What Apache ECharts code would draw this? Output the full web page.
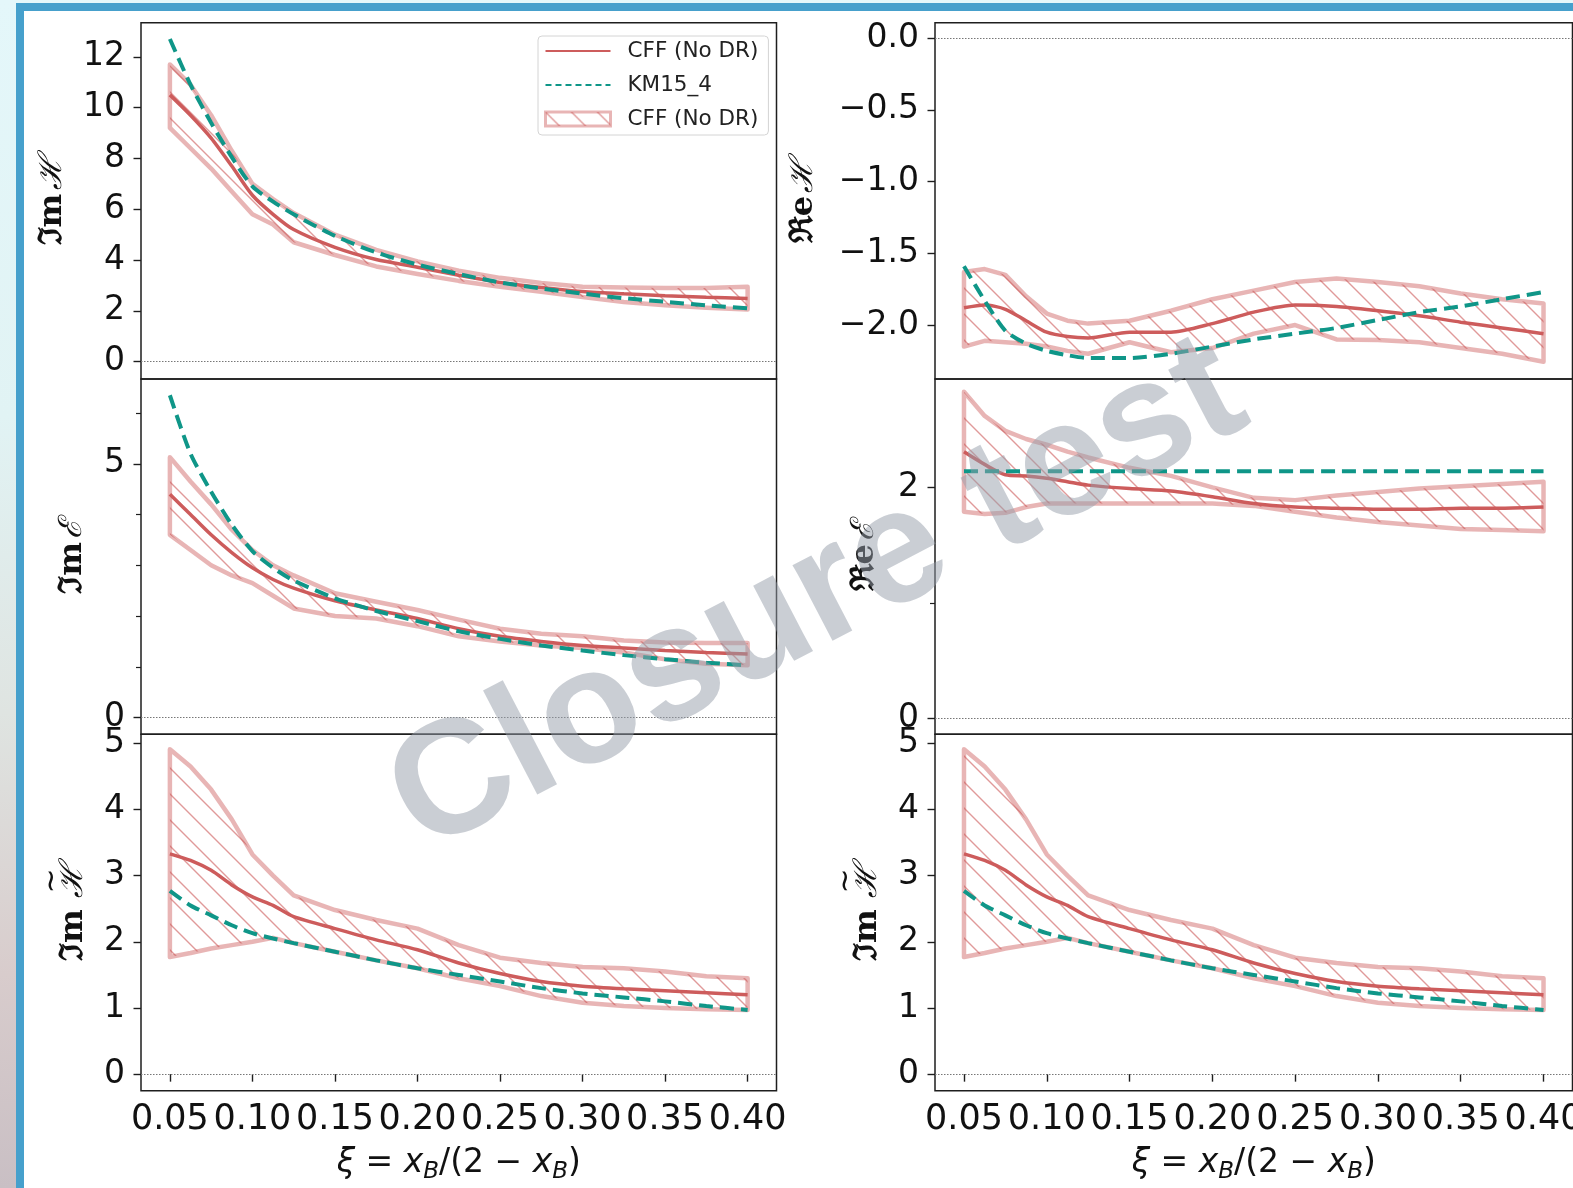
<!DOCTYPE html>
<html>
<head>
<meta charset="utf-8">
<script src="https://cdn.jsdelivr.net/npm/echarts@6/dist/echarts.min.js"></script>
<style>
  html, body { margin: 0; padding: 0; width: 1573px; height: 1188px; overflow: hidden; }
  body {
    position: relative;
    background: linear-gradient(180deg, #e4f7fa 0%, #e1f3f4 35%, #dfe4e1 60%, #d8cccc 82%, #c9bfc4 100%);
  }
  #frame {
    position: absolute; left: 16px; top: 3px; right: 0; bottom: 0;
    background: #ffffff;
    border-left: 8px solid #46a0cc;
    border-top: 8px solid #46a0cc;
  }
  #chart { position: absolute; left: 0; top: 0; width: 1573px; height: 1188px; }
</style>
</head>
<body>
<div id="frame"></div>
<div id="chart"></div>
<script>
// xi = x_B / (2 - x_B) sampling points shared by every panel
const xi = [0.05, 0.0625, 0.075, 0.0875, 0.10, 0.1125, 0.125, 0.15, 0.175, 0.20, 0.225, 0.25, 0.275, 0.30, 0.325, 0.35, 0.375, 0.40];

// Im H
const imH_cff = [10.5, 9.7, 8.8, 7.7, 6.55, 5.8, 5.2, 4.5, 4.02, 3.72, 3.4, 3.12, 2.92, 2.76, 2.67, 2.6, 2.54, 2.49];
const imH_km  = [12.7, 10.9, 9.4, 8.05, 6.9, 6.3, 5.8, 4.95, 4.3, 3.82, 3.45, 3.12, 2.88, 2.68, 2.5, 2.36, 2.22, 2.1];
const imH_hi  = [11.7, 10.9, 9.7, 8.3, 7.0, 6.4, 5.85, 5.0, 4.4, 3.95, 3.58, 3.3, 3.1, 2.95, 2.92, 2.9, 2.9, 2.95];
const imH_lo  = [9.2, 8.4, 7.6, 6.7, 5.8, 5.4, 4.7, 4.2, 3.75, 3.45, 3.18, 2.95, 2.75, 2.55, 2.35, 2.22, 2.12, 2.05];

// Re H
const reH_cff = [-1.88, -1.86, -1.89, -1.97, -2.05, -2.08, -2.09, -2.05, -2.05, -1.99, -1.91, -1.86, -1.87, -1.9, -1.935, -1.98, -2.02, -2.06];
const reH_km  = [-1.59, -1.83, -2.04, -2.13, -2.18, -2.21, -2.23, -2.23, -2.2, -2.15, -2.1, -2.06, -2.02, -1.965, -1.91, -1.87, -1.82, -1.77];
const reH_hi  = [-1.63, -1.61, -1.65, -1.8, -1.92, -1.97, -1.99, -1.97, -1.9, -1.82, -1.76, -1.7, -1.675, -1.7, -1.73, -1.78, -1.82, -1.85];
const reH_lo  = [-2.15, -2.11, -2.12, -2.13, -2.15, -2.18, -2.2, -2.12, -2.19, -2.16, -2.06, -2.0, -2.1, -2.105, -2.12, -2.16, -2.2, -2.256];

// Im E
const imE_cff = [4.4, 4.0, 3.6, 3.25, 2.95, 2.72, 2.55, 2.3, 2.12, 1.95, 1.75, 1.6, 1.5, 1.42, 1.37, 1.32, 1.28, 1.25];
const imE_km  = [6.35, 5.2, 4.45, 3.8, 3.28, 2.95, 2.7, 2.35, 2.1, 1.9, 1.7, 1.55, 1.42, 1.32, 1.23, 1.15, 1.08, 1.03];
const imE_hi  = [5.13, 4.65, 4.2, 3.7, 3.3, 3.0, 2.8, 2.45, 2.28, 2.12, 1.93, 1.75, 1.65, 1.6, 1.52, 1.48, 1.47, 1.47];
const imE_lo  = [3.6, 3.3, 3.0, 2.8, 2.65, 2.4, 2.15, 2.0, 1.95, 1.8, 1.6, 1.5, 1.42, 1.37, 1.28, 1.15, 1.06, 1.03];

// Re E
const reE_cff = [2.31, 2.2, 2.11, 2.1, 2.08, 2.05, 2.02, 1.99, 1.97, 1.92, 1.86, 1.83, 1.82, 1.81, 1.81, 1.82, 1.82, 1.83];
const reE_km  = [2.14, 2.14, 2.14, 2.14, 2.14, 2.14, 2.14, 2.14, 2.14, 2.14, 2.14, 2.14, 2.14, 2.14, 2.14, 2.14, 2.14, 2.14];
const reE_hi  = [2.83, 2.62, 2.49, 2.42, 2.37, 2.31, 2.26, 2.17, 2.1, 2.0, 1.91, 1.89, 1.93, 1.96, 1.99, 2.01, 2.03, 2.05];
const reE_lo  = [1.79, 1.77, 1.78, 1.83, 1.86, 1.86, 1.86, 1.86, 1.86, 1.86, 1.84, 1.79, 1.74, 1.7, 1.67, 1.64, 1.63, 1.62];

// Im H-tilde
const imHt_cff = [3.33, 3.23, 3.08, 2.86, 2.68, 2.55, 2.38, 2.2, 2.03, 1.88, 1.68, 1.52, 1.4, 1.33, 1.29, 1.26, 1.23, 1.2];
const imHt_km  = [2.77, 2.55, 2.4, 2.25, 2.13, 2.05, 1.98, 1.85, 1.72, 1.6, 1.5, 1.4, 1.3, 1.22, 1.16, 1.1, 1.03, 0.97];
const imHt_hi  = [4.91, 4.65, 4.3, 3.85, 3.32, 3.0, 2.7, 2.48, 2.33, 2.2, 1.95, 1.76, 1.68, 1.62, 1.6, 1.55, 1.48, 1.45];
const imHt_lo  = [1.77, 1.83, 1.9, 1.95, 2.0, 2.06, 1.98, 1.85, 1.72, 1.6, 1.45, 1.33, 1.18, 1.08, 1.03, 1.0, 0.98, 0.97];

// tick labels
const xTicks    = [0.05, 0.10, 0.15, 0.20, 0.25, 0.30, 0.35, 0.40];
const imH_ticks = [0, 2, 4, 6, 8, 10, 12];
const reH_ticks = [-2.0, -1.5, -1.0, -0.5, 0.0];
const imE_ticks = [0, 5];
const imE_minor = [1, 2, 3, 4, 6];
const reE_ticks = [0, 2];
const reE_minor = [1];
const imHt_ticks = [0, 1, 2, 3, 4, 5];

const RED = '#cd5c5c';
const TEAL = '#0f9688';
const BAND_EDGE = 'rgba(205,92,92,0.45)';
const FONT = '"DejaVu Sans", sans-serif';
const SERIF = '"DejaVu Serif", serif';
const TICK_FS = 33;
const XTICK_FS = 35;
const NAME_FS = 32;

// diagonal "\\" hatch used for the uncertainty bands
function makeHatch() {
  const s = 26;
  const c = document.createElement('canvas');
  c.width = s; c.height = s;
  const g = c.getContext('2d');
  g.strokeStyle = 'rgba(205,92,92,0.62)';
  g.lineWidth = 1.4;
  g.beginPath();
  g.moveTo(-2, -2); g.lineTo(s + 2, s + 2);
  g.moveTo(-2, s - 2); g.lineTo(2, s + 2);
  g.moveTo(s - 2, -2); g.lineTo(s + 2, 2);
  g.stroke();
  return c;
}
const hatch = { image: makeHatch(), repeat: 'repeat' };

// widths used to centre the tilde over the calligraphic H
const meas = document.createElement('canvas').getContext('2d');
meas.font = 'bold ' + NAME_FS + 'px ' + SERIF;
const wIm = meas.measureText('ℑm ').width;
meas.font = 'italic ' + NAME_FS + 'px ' + SERIF;
const wH = meas.measureText('ℋ').width;

// panel layout: 0 ImH, 1 ReH, 2 ImE, 3 ReE, 4 ImHt (left), 5 ImHt (right)
const colLeft = [141, 935];
const colWidth = [635.5, 637.5];
const rowTop = [22.7, 379, 734.3];
const rowHeight = [356.3, 355.3, 356.4];

const grids = [];
for (let r = 0; r < 3; r++) {
  for (let c = 0; c < 2; c++) {
    grids.push({
      left: colLeft[c], top: rowTop[r], width: colWidth[c], height: rowHeight[r],
      show: true, borderColor: '#1e1e1e', borderWidth: 1.5, backgroundColor: 'transparent',
      containLabel: false, outerBoundsMode: 'none'
    });
  }
}

const xName = '{i|ξ} = {i|x}{b|B}/(2 − {i|x}{b|B})';
const xAxes = grids.map((g, k) => {
  const bottom = k >= 4;
  return {
    type: 'value', gridIndex: k, min: 0.0325, max: 0.4175,
    axisLine: { show: false },
    splitLine: { show: false },
    axisTick: { show: bottom, customValues: xTicks, length: 7.5, lineStyle: { color: '#1e1e1e', width: 1.4 } },
    axisLabel: {
      show: bottom, customValues: xTicks, margin: 12,
      formatter: v => v.toFixed(2),
      fontSize: XTICK_FS, fontFamily: FONT, color: '#111'
    },
    name: bottom ? xName : '',
    nameLocation: 'middle', nameGap: 53,
    nameTextStyle: {
      fontSize: 33, fontFamily: FONT, color: '#111', lineHeight: 40,
      rich: {
        i: { fontStyle: 'italic', fontSize: 33, fontFamily: FONT, color: '#111', lineHeight: 40 },
        b: { fontStyle: 'italic', fontSize: 23, fontFamily: FONT, color: '#111', lineHeight: 22, verticalAlign: 'bottom' }
      }
    }
  };
});

function minus(v, digits) {
  const s = Math.abs(v).toFixed(digits);
  return v < -1e-9 ? '−' + s : s;
}

const labelRich = {
  f: { fontFamily: SERIF, fontSize: NAME_FS, fontWeight: 'bold', color: '#111' },
  c: { fontFamily: SERIF, fontSize: NAME_FS, fontStyle: 'italic', color: '#111' },
  fw: { fontFamily: SERIF, fontSize: NAME_FS, fontWeight: 'bold', color: '#111', width: wIm, lineHeight: 34 },
  cw: { fontFamily: SERIF, fontSize: NAME_FS, fontStyle: 'italic', color: '#111', width: wH, lineHeight: 34 },
  sp: { fontSize: 10, width: wIm, lineHeight: 10 },
  t: { fontFamily: FONT, fontSize: 30, color: '#111', width: wH, align: 'center', lineHeight: 10 }
};
const tildeName = '{sp| }{t|~}\n{fw|ℑm }{cw|ℋ}';

function yAxis(k, min, max, ticks, digits, name, gap) {
  return {
    type: 'value', gridIndex: k, min: min, max: max, position: 'left',
    axisLine: { show: false },
    splitLine: { show: false },
    axisTick: { show: true, customValues: ticks, length: 7.5, lineStyle: { color: '#1e1e1e', width: 1.4 } },
    axisLabel: {
      customValues: ticks, margin: 16,
      formatter: v => minus(v, digits),
      fontSize: TICK_FS, fontFamily: FONT, color: '#111'
    },
    name: name, nameLocation: 'middle', nameRotate: 90, nameGap: gap,
    nameTextStyle: { rich: labelRich }
  };
}
function minorAxis(k, min, max, ticks) {
  return {
    type: 'value', gridIndex: k, min: min, max: max, position: 'left', offset: 0,
    axisLine: { show: false }, splitLine: { show: false },
    axisLabel: { show: false },
    axisTick: { show: true, customValues: ticks, length: 5, lineStyle: { color: '#1e1e1e', width: 1.2 } }
  };
}

const yAxes = [
  yAxis(0, -0.68, 13.34, imH_ticks, 0, '{f|ℑm} {c|ℋ}', 72),
  yAxis(1, -2.376, 0.107, reH_ticks, 1, '{f|ℜe} {c|ℋ}', 115),
  yAxis(2, -0.33, 6.67, imE_ticks, 0, '{f|ℑm} {c|ℰ}', 52),
  yAxis(3, -0.14, 2.94, reE_ticks, 0, '{f|ℜe} {c|ℰ}', 54),
  yAxis(4, -0.25, 5.136, imHt_ticks, 0, tildeName, 50),
  yAxis(5, -0.25, 5.136, imHt_ticks, 0, tildeName, 50),
  minorAxis(2, -0.33, 6.67, imE_minor),
  minorAxis(3, -0.14, 2.94, reE_minor)
];

const pairs = arr => xi.map((x, i) => [x, arr[i]]);

function bandSeries(k, lo, hi, name) {
  return {
    type: 'custom', name: name, xAxisIndex: k, yAxisIndex: k, z: 2, silent: true,
    itemStyle: { color: BAND_EDGE },
    data: [[xi[0], lo[0]]],
    renderItem: (params, api) => {
      const top = xi.map((x, i) => api.coord([x, hi[i]]));
      const bot = xi.map((x, i) => api.coord([x, lo[i]])).reverse();
      return {
        type: 'polygon',
        shape: { points: top.concat(bot) },
        style: { fill: hatch, stroke: BAND_EDGE, lineWidth: 4.5, lineJoin: 'round' }
      };
    }
  };
}
function cffSeries(k, arr, name) {
  return {
    type: 'line', name: name, xAxisIndex: k, yAxisIndex: k, z: 3,
    data: pairs(arr), showSymbol: false, symbol: 'none', smooth: 0.25, silent: true,
    lineStyle: { color: RED, width: 3.5 }, itemStyle: { color: RED }
  };
}
function kmSeries(k, arr, name) {
  return {
    type: 'line', name: name, xAxisIndex: k, yAxisIndex: k, z: 4,
    data: pairs(arr), showSymbol: false, symbol: 'none', smooth: 0.25, silent: true,
    lineStyle: { color: TEAL, width: 4, type: [14, 7] }, itemStyle: { color: TEAL },
    markLine: {
      silent: true, symbol: 'none', animation: false,
      label: { show: false },
      lineStyle: { color: '#777', width: 1, type: [1.5, 1.5] },
      data: [{ yAxis: 0 }]
    }
  };
}

const panelData = [
  [imH_cff, imH_km, imH_lo, imH_hi],
  [reH_cff, reH_km, reH_lo, reH_hi],
  [imE_cff, imE_km, imE_lo, imE_hi],
  [reE_cff, reE_km, reE_lo, reE_hi],
  [imHt_cff, imHt_km, imHt_lo, imHt_hi],
  [imHt_cff, imHt_km, imHt_lo, imHt_hi]
];

const series = [];
panelData.forEach((d, k) => {
  const first = k === 0;
  series.push(bandSeries(k, d[2], d[3], first ? 'CFF (No DR) band' : 'band ' + k));
  series.push(cffSeries(k, d[0], first ? 'CFF (No DR)' : 'cff ' + k));
  series.push(kmSeries(k, d[1], first ? 'KM15_4' : 'km ' + k));
});

const hiddenMarker = { color: 'rgba(0,0,0,0)', borderWidth: 0, opacity: 0 };

const option = {
  animation: false,
  backgroundColor: 'transparent',
  grid: grids,
  xAxis: xAxes,
  yAxis: yAxes,
  series: series,
  legend: {
    show: true, selectedMode: false, orient: 'vertical',
    left: 538, top: 36,
    padding: [4, 10, 5, 6], itemGap: 12,
    itemWidth: 65, itemHeight: 14,
    backgroundColor: 'rgba(255,255,255,0.85)', borderColor: '#d4d4d4', borderWidth: 1, borderRadius: 4,
    textStyle: { fontSize: 21.5, fontFamily: FONT, color: '#222', rich: { g: { width: 12 } } },
    formatter: name => '{g| }' + name.replace(' band', ''),
    data: [
      { name: 'CFF (No DR)', icon: 'inherit', itemStyle: hiddenMarker, lineStyle: { color: RED, width: 2 } },
      { name: 'KM15_4', icon: 'inherit', itemStyle: hiddenMarker, lineStyle: { color: TEAL, width: 2, type: [6, 4] } },
      { name: 'CFF (No DR) band', icon: 'rect', itemStyle: { color: hatch, borderColor: BAND_EDGE, borderWidth: 3 } }
    ]
  },
  graphic: [
    {
      type: 'text', x: 818, y: 598, rotation: 27.5 * Math.PI / 180, z: 100, silent: true,
      style: {
        text: 'Closure test',
        fontSize: 162, fontWeight: 'bold', fontFamily: '"Liberation Sans", Arial, sans-serif',
        fill: 'rgba(150,158,170,0.5)', align: 'center', verticalAlign: 'middle'
      }
    }
  ]
};

const chart = echarts.init(document.getElementById('chart'), null, { renderer: 'canvas' });
chart.setOption(option);
</script>
</body>
</html>
